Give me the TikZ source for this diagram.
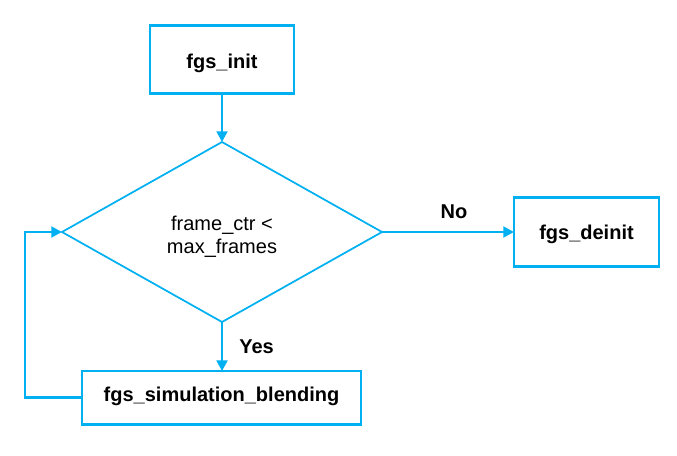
\documentclass[tikz,border=0pt]{standalone}
\usepackage{fontspec}
\setmainfont{Liberation Sans}
\usetikzlibrary{shapes.geometric,arrows.meta}
\definecolor{fcblue}{HTML}{00B0F0}
\begin{document}
\begin{tikzpicture}[x=0.75pt,y=-0.75pt,
  box/.style={draw=fcblue,line width=1.8pt,rectangle,inner sep=0pt,outer sep=0pt,
    font=\fontsize{15}{18}\selectfont\bfseries,text=black,text depth=0pt},
  decision/.style={draw=fcblue,line width=1.3pt,diamond,inner sep=0pt,outer sep=0pt,
    minimum width=240pt,minimum height=135pt,align=center,
    font=\fontsize{15}{17.5}\selectfont,text=black,text height=32.5pt,text depth=0pt},
  conn/.style={draw=fcblue,line width=2pt,-{Triangle[length=8pt,width=8pt]}},
  lbl/.style={font=\fontsize{15}{18}\selectfont\bfseries,text=black,inner sep=0pt}]
\useasboundingbox (0,0) rectangle (677,456);
\node[box,minimum width=108pt,minimum height=51pt,text height=14.2pt] (init) at (222,59.5) {fgs\_init};
\node[decision] (dia) at (222,232) {frame\_ctr <\\max\_frames};
\node[box,minimum width=108.75pt,minimum height=51.75pt,text height=11.6pt] (deinit) at (586.5,232) {fgs\_deinit};
\node[box,minimum width=209pt,minimum height=40pt,text height=10pt,text depth=4pt] (sim) at (221.5,397.8) {fgs\_simulation\_blending};
\draw[conn] (init.south) -- (dia.north);
\draw[conn] (dia.east) -- (deinit.west |- dia.east) node[lbl,midway,above=9pt,xshift=4.5pt] (no) {No};
\draw[conn] (dia.south) -- (sim.north -| dia.south) node[lbl,midway,right=12pt] (yes) {Yes};
\coordinate (lp) at (25,397.8);
\draw[conn] (sim.west) -- (lp) |- (dia.west);
\end{tikzpicture}
\end{document}
